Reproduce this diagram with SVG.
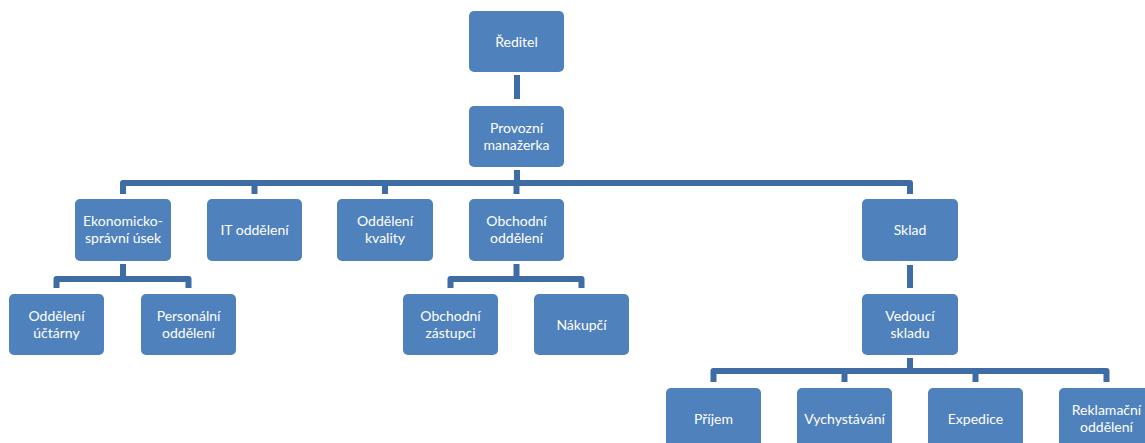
<svg xmlns="http://www.w3.org/2000/svg" width="1145" height="443" viewBox="0 0 1145 443">
  <style>
    .box { fill: #4f81bd; }
    .lbl { fill: #ffffff; font-family: Lato, "Open Sans", "Liberation Sans", sans-serif; font-size: 14px; text-anchor: middle; }
    .con { fill: none; stroke: #3e6da6; stroke-width: 6; stroke-linejoin: round; }
  </style>
  <rect width="1145" height="443" fill="#ffffff"/>

  <g id="connectors">
    <path class="con" d="M517 75 V99"/>
    <path class="con" d="M517 170 V183"/>
    <path class="con" d="M123 194 V183 H910 V194"/>
    <path class="con" d="M254.5 183 V194"/>
    <path class="con" d="M385 183 V194"/>
    <path class="con" d="M516.5 183 V194"/>
    <path class="con" d="M123 264 V279"/>
    <path class="con" d="M56.5 288 V279 H188.5 V288"/>
    <path class="con" d="M516.5 264 V279"/>
    <path class="con" d="M450.5 288 V279 H581.5 V288"/>
    <path class="con" d="M910 265 V288"/>
    <path class="con" d="M910 358 V371"/>
    <path class="con" d="M713.5 382 V371 H1106.5 V382"/>
    <path class="con" d="M844.5 371 V382"/>
    <path class="con" d="M975.5 371 V382"/>
  </g>

  <g id="reditel">
    <rect class="box" x="469" y="11" width="95" height="61" rx="5"/>
    <text class="lbl" x="516.5" y="47">Ředitel</text>
  </g>
  <g id="provozni">
    <rect class="box" x="469" y="106" width="95" height="61" rx="5"/>
    <text class="lbl" x="516.5" y="133">Provozní</text>
    <text class="lbl" x="516.5" y="150">manažerka</text>
  </g>

  <g id="ekonomicko">
    <rect class="box" x="75" y="199" width="96" height="62" rx="5"/>
    <text class="lbl" x="123" y="226">Ekonomicko-</text>
    <text class="lbl" x="123" y="243">správní úsek</text>
  </g>
  <g id="it">
    <rect class="box" x="207" y="199" width="95" height="62" rx="5"/>
    <text class="lbl" x="254.5" y="235">IT oddělení</text>
  </g>
  <g id="kvalita">
    <rect class="box" x="337" y="199" width="96" height="62" rx="5"/>
    <text class="lbl" x="385" y="226">Oddělení</text>
    <text class="lbl" x="385" y="243">kvality</text>
  </g>
  <g id="obchodni">
    <rect class="box" x="469" y="199" width="95" height="62" rx="5"/>
    <text class="lbl" x="516.5" y="226">Obchodní</text>
    <text class="lbl" x="516.5" y="243">oddělení</text>
  </g>
  <g id="sklad">
    <rect class="box" x="862" y="199" width="96" height="62" rx="5"/>
    <text class="lbl" x="910" y="235">Sklad</text>
  </g>

  <g id="uctarna">
    <rect class="box" x="9" y="294" width="95" height="61" rx="5"/>
    <text class="lbl" x="56.5" y="321">Oddělení</text>
    <text class="lbl" x="56.5" y="338">účtárny</text>
  </g>
  <g id="personalni">
    <rect class="box" x="141" y="294" width="95" height="61" rx="5"/>
    <text class="lbl" x="188.5" y="321">Personální</text>
    <text class="lbl" x="188.5" y="338">oddělení</text>
  </g>
  <g id="zastupci">
    <rect class="box" x="403" y="294" width="95" height="61" rx="5"/>
    <text class="lbl" x="450.5" y="321">Obchodní</text>
    <text class="lbl" x="450.5" y="338">zástupci</text>
  </g>
  <g id="nakupci">
    <rect class="box" x="534" y="294" width="95" height="61" rx="5"/>
    <text class="lbl" x="581.5" y="330">Nákupčí</text>
  </g>
  <g id="vedouci">
    <rect class="box" x="862" y="294" width="96" height="61" rx="5"/>
    <text class="lbl" x="910" y="321">Vedoucí</text>
    <text class="lbl" x="910" y="338">skladu</text>
  </g>

  <g id="prijem">
    <rect class="box" x="666" y="388" width="95" height="61" rx="5"/>
    <text class="lbl" x="713.5" y="424">Příjem</text>
  </g>
  <g id="vychystavani">
    <rect class="box" x="797" y="388" width="95" height="61" rx="5"/>
    <text class="lbl" x="844.5" y="424">Vychystávání</text>
  </g>
  <g id="expedice">
    <rect class="box" x="928" y="388" width="95" height="61" rx="5"/>
    <text class="lbl" x="975.5" y="424">Expedice</text>
  </g>
  <g id="reklamace">
    <rect class="box" x="1059" y="388" width="95" height="61" rx="5"/>
    <text class="lbl" x="1106.5" y="415">Reklamační</text>
    <text class="lbl" x="1106.5" y="432">oddělení</text>
  </g>
</svg>
